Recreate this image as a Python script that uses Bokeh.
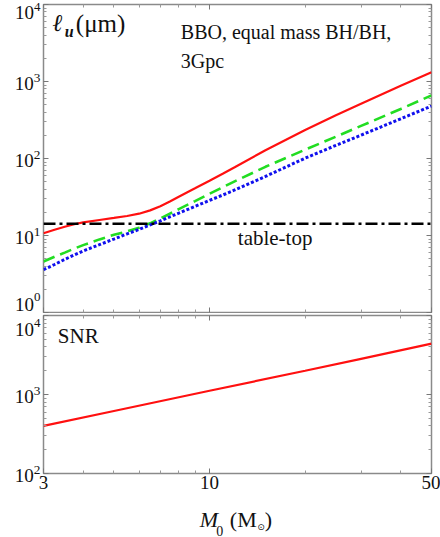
from bokeh.plotting import figure
from bokeh.models import Range1d, FixedTicker, LogAxis, Span, Label, BasicTickFormatter
from bokeh.layouts import column
from bokeh.embed import file_html
from bokeh.resources import INLINE

# ---------------- data ----------------
mass = [3, 3.25, 3.5, 3.75, 4, 4.5, 5, 5.5, 6, 6.5, 7, 7.5, 8, 9, 10, 11, 12, 15, 20, 25, 30, 40, 50]
lu_red = [10.7, 11.9, 13.0, 14.0, 14.8, 15.9, 16.9, 17.9, 19.2, 21.2, 24.0, 27.6, 31.8, 41, 51.5, 63.5,
          77, 128, 235, 365, 515, 880, 1320]
lu_green = [4.6, 5.3, 6.0, 6.75, 7.5, 8.9, 10.2, 11.3, 12.6, 14.4, 16.6, 19.2, 22.0, 28.0, 34.8, 42.3,
            50.5, 78, 130, 192, 265, 440, 660]
lu_blue = [3.6, 4.2, 4.9, 5.6, 6.3, 7.6, 9.0, 10.5, 12.0, 13.7, 15.5, 17.5, 19.5, 23.9, 28.6, 33.5,
           39, 58.5, 101, 148, 201, 328, 480]
tabletop_level = 14.2

mass_snr = [3, 5, 10, 20, 30, 50]
snr = [400, 618, 1115, 2000, 2830, 4400]

x_major = [3, 10, 50]
x_minor = [4, 5, 6, 7, 8, 9, 20, 30, 40]
y_top_major = [1, 10, 100, 1000, 10000]
y_bot_major = [100, 1000, 10000]
y_minor = [k * 10 ** n for n in range(0, 4) for k in range(2, 10)]

# ---------------- layout / style ----------------
SERIF = "Liberation Serif, DejaVu Serif"
GREY = "#8a8a8a"
W, H = 440, 537
X0, X1 = 42.7, 430.7          # frame left/right (px)
T0, T1 = 4, 312               # top panel frame top/bottom (px)
B0, B1 = 315, 473             # bottom panel frame top/bottom (page px)
P3_TOP = 499                  # strip holding the x-axis title


def mx(px):
    return 3 * (50 / 3) ** ((px - X0) / (X1 - X0))


def ty(py):
    return 10 ** (4 * (T1 - py) / (T1 - T0))


def by(py):
    return 10 ** (2 + 2 * (B1 - py) / (B1 - B0))


def sy3(py):
    return (H - py) / (H - P3_TOP)


def style_axis(ax, labels=True):
    ax.axis_line_color = None
    ax.major_tick_in = 5
    ax.major_tick_out = 0
    ax.minor_tick_in = 3
    ax.minor_tick_out = 0
    ax.major_tick_line_color = "#777777"
    ax.minor_tick_line_color = "#999999"
    ax.major_label_text_font = SERIF
    ax.major_label_text_font_size = "19px"
    ax.major_label_text_color = "#111111"
    if not labels:
        ax.major_label_text_font_size = "0px"
        ax.major_label_standoff = 0
        ax.major_label_text_color = None


def make_fig(height, ymin, border_top, border_bottom, **kw):
    p = figure(width=W, height=height, x_axis_type="log", y_axis_type="log",
               x_range=Range1d(3, 50), y_range=Range1d(ymin, 1e4),
               output_backend="svg", toolbar_location=None,
               min_border_left=43, min_border_right=9,
               min_border_top=border_top, min_border_bottom=border_bottom, **kw)
    p.xgrid.visible = False
    p.ygrid.visible = False
    p.outline_line_color = GREY
    p.outline_line_width = 1.5
    p.background_fill_color = "white"
    return p


def lab(p, x, y, text, size="20px", style="normal", font=SERIF):
    p.add_layout(Label(x=x, y=y, text=text, text_font=font, text_font_size=size,
                       text_font_style=style, text_color="#111111"))


xt = FixedTicker(ticks=x_major, minor_ticks=x_minor)
yt_top = FixedTicker(ticks=y_top_major, minor_ticks=y_minor)
yt_bot = FixedTicker(ticks=y_bot_major, minor_ticks=y_minor)

# ---------------- top panel ----------------
p1 = make_fig(313, 1, T0, 1)
p1.xaxis.ticker = xt
p1.yaxis.ticker = yt_top
style_axis(p1.xaxis[0], labels=False)
style_axis(p1.yaxis[0], labels=True)
p1.yaxis.major_label_standoff = 3
p1.yaxis.major_label_overrides = {1: "", 10000: ""}   # edge labels drawn shifted, below
ra = LogAxis(ticker=yt_top)
style_axis(ra, labels=False)
p1.add_layout(ra, "right")
ta = LogAxis(ticker=xt)
style_axis(ta, labels=False)
p1.add_layout(ta, "above")

p1.line(mass, lu_red, line_color="#ff1010", line_width=2.2)
p1.line(mass, lu_green, line_color="#22dd22", line_width=2.6, line_dash="12 6")
p1.line(mass, lu_blue, line_color="#1010ee", line_width=3, line_dash="3 2")
p1.add_layout(Span(location=tabletop_level, dimension="width", line_color="black",
                   line_width=2.5, line_dash="12 4 3 4"))

lab(p1, mx(52), ty(35), "ℓ", "24px", "bold italic")
lab(p1, mx(64), ty(39), "u", "16px", "bold italic")
lab(p1, mx(75), ty(36), "(μm)", "25px")
lab(p1, mx(180), ty(42), "BBO, equal mass BH/BH,", "20px")
lab(p1, mx(180), ty(71), "3Gpc", "20px")
lab(p1, mx(237), ty(249), "table-top", "21px")

# ---------------- bottom panel ----------------
p2 = make_fig(P3_TOP - 313, 100, 2, P3_TOP - B1)
p2.xaxis.ticker = xt
p2.xaxis.formatter = BasicTickFormatter()
p2.yaxis.ticker = yt_bot
style_axis(p2.xaxis[0], labels=True)
p2.xaxis.major_label_standoff = 2
style_axis(p2.yaxis[0], labels=True)
p2.yaxis.major_label_standoff = 3
p2.yaxis.major_label_overrides = {10000: ""}
ra2 = LogAxis(ticker=yt_bot)
style_axis(ra2, labels=False)
p2.add_layout(ra2, "right")
ta2 = LogAxis(ticker=xt)
style_axis(ta2, labels=False)
p2.add_layout(ta2, "above")

p2.line(mass_snr, snr, line_color="#ff1010", line_width=2.2)
lab(p2, mx(57), by(347), "SNR", "21px")

# ---------------- strip with the x-axis title ----------------
p3 = figure(width=W, height=H - P3_TOP, x_axis_type="log", x_range=Range1d(3, 50),
            y_range=Range1d(0, 1), x_axis_location=None, y_axis_location=None,
            output_backend="svg", toolbar_location=None,
            min_border_left=43, min_border_right=9, min_border_top=0, min_border_bottom=0)
p3.outline_line_color = None
p3.xgrid.visible = False
p3.ygrid.visible = False
lab(p3, mx(199), sy3(531), "M", "22px", "italic")
lab(p3, mx(215.5), sy3(535), "0", "14px")
lab(p3, mx(229), sy3(531), "(M", "22px")
lab(p3, mx(256.5), sy3(531), "⊙", "9px", font="DejaVu Sans")
lab(p3, mx(264), sy3(531), ")", "22px")

# ---------------- transparent overlay for the shifted edge tick labels ----------------
p0 = figure(width=W, height=H, x_range=Range1d(0, W), y_range=Range1d(H, 0),
            x_axis_location=None, y_axis_location=None, output_backend="svg",
            toolbar_location=None, min_border=0, min_border_left=0, min_border_right=0,
            min_border_top=0, min_border_bottom=0, frame_align=False,
            margin=(-H, 0, 0, 0))
p0.outline_line_color = None
p0.background_fill_alpha = 0
p0.border_fill_alpha = 0
p0.xgrid.visible = False
p0.ygrid.visible = False
for base_y, exp_y, expo in [(18.5, 10, "4"), (310, 300.5, "0"), (335, 326, "4")]:
    lab(p0, 14.5, base_y, "10", "19px")
    lab(p0, 33.5, exp_y, expo, "13px")

layout = column(p1, p2, p3, p0, spacing=0)
open("out.html", "w").write(file_html(layout, INLINE))
